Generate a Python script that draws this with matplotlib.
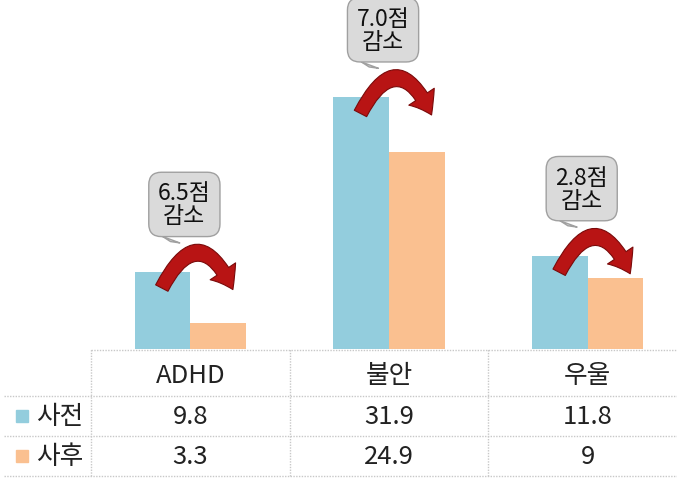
import matplotlib.pyplot as plt
from matplotlib.patches import FancyArrowPatch

plt.rcParams['font.family'] = ['Noto Sans CJK KR', 'DejaVu Sans']

categories = ['ADHD', '불안', '우울']
series_names = ['사전', '사후']
before = [9.8, 31.9, 11.8]
after = [3.3, 24.9, 9]
value_labels = [['9.8', '31.9', '11.8'], ['3.3', '24.9', '9']]
drops = ['6.5점\n감소', '7.0점\n감소', '2.8점\n감소']

c_before = '#93CDDD'
c_after = '#FAC090'
grid_c = '#C8C8C8'

fig = plt.figure(figsize=(6.77, 4.81), dpi=100)
W, H = 677, 481
px_unit = 596 / 3.0  # pixels per category

# bar area
ax = fig.add_axes([91 / W, 131 / H, 596 / W, 350 / H])
ax.set_xlim(-0.5, 2.5)
ax.set_ylim(0, 44.3)
ax.axis('off')

bw = 0.28
xs = range(len(categories))
ax.bar([x - bw / 2 for x in xs], before, width=bw, color=c_before, zorder=2)
ax.bar([x + bw / 2 for x in xs], after, width=bw, color=c_after, zorder=2)

# callouts + curved arrows
for i in xs:
    ax.annotate(drops[i], xy=(i - 0.1, before[i] + 3.8), xytext=(i - 0.03, before[i] + 8.5),
                ha='center', va='center', fontsize=16.5, linespacing=1.0, color='#111111',
                bbox=dict(boxstyle='round,pad=0.4,rounding_size=0.55', fc='#DADADA', ec='#A0A0A0', lw=1),
                arrowprops=dict(arrowstyle='wedge,tail_width=0.8,shrink_factor=0.5',
                                fc='#DADADA', ec='#A0A0A0', lw=1),
                zorder=5)
    y0 = before[i] - 2.4
    y1 = y0 - 0.2
    arr = FancyArrowPatch((i - 0.15, y0), (i + 0.22, y1),
                          connectionstyle='arc3,rad=-1.05',
                          arrowstyle='simple,head_length=15,head_width=22,tail_width=10',
                          fc='#B81414', ec='#7A0A0A', lw=0.8, zorder=4,
                          mutation_scale=1)
    ax.add_patch(arr)

# data table
tax = fig.add_axes([0, 0, 687 / W, 131 / H])
x_left = -0.5 - 91 / px_unit
tax.set_xlim(x_left, 2.5)
tax.set_ylim(0, 131)
tax.axis('off')

line_kw = dict(color=grid_c, lw=1, ls=(0, (1, 1)))
tax.plot([-0.5, 2.5], [130.5, 130.5], **line_kw)
for yl in [84, 44, 4]:
    tax.plot([x_left + 0.02, 2.5], [yl, yl], **line_kw)
for xl in [-0.5, 0.5, 1.5]:
    tax.plot([xl, xl], [4, 131], **line_kw)

fs = 18.5
for i, cat in enumerate(categories):
    tax.text(i, 105, cat, ha='center', va='center', fontsize=fs, color='#222222')
row_y = [64, 24]
colors = [c_before, c_after]
for r in range(2):
    tax.plot(x_left + 22 / px_unit, row_y[r], marker='s', ms=9, color=colors[r], ls='none')
    tax.text(x_left + 36 / px_unit, row_y[r], series_names[r], ha='left', va='center',
             fontsize=fs, color='#222222')
    for i in xs:
        tax.text(i, row_y[r], value_labels[r][i], ha='center', va='center', fontsize=fs,
                 color='#222222')

fig.savefig('out.png', dpi=100)
